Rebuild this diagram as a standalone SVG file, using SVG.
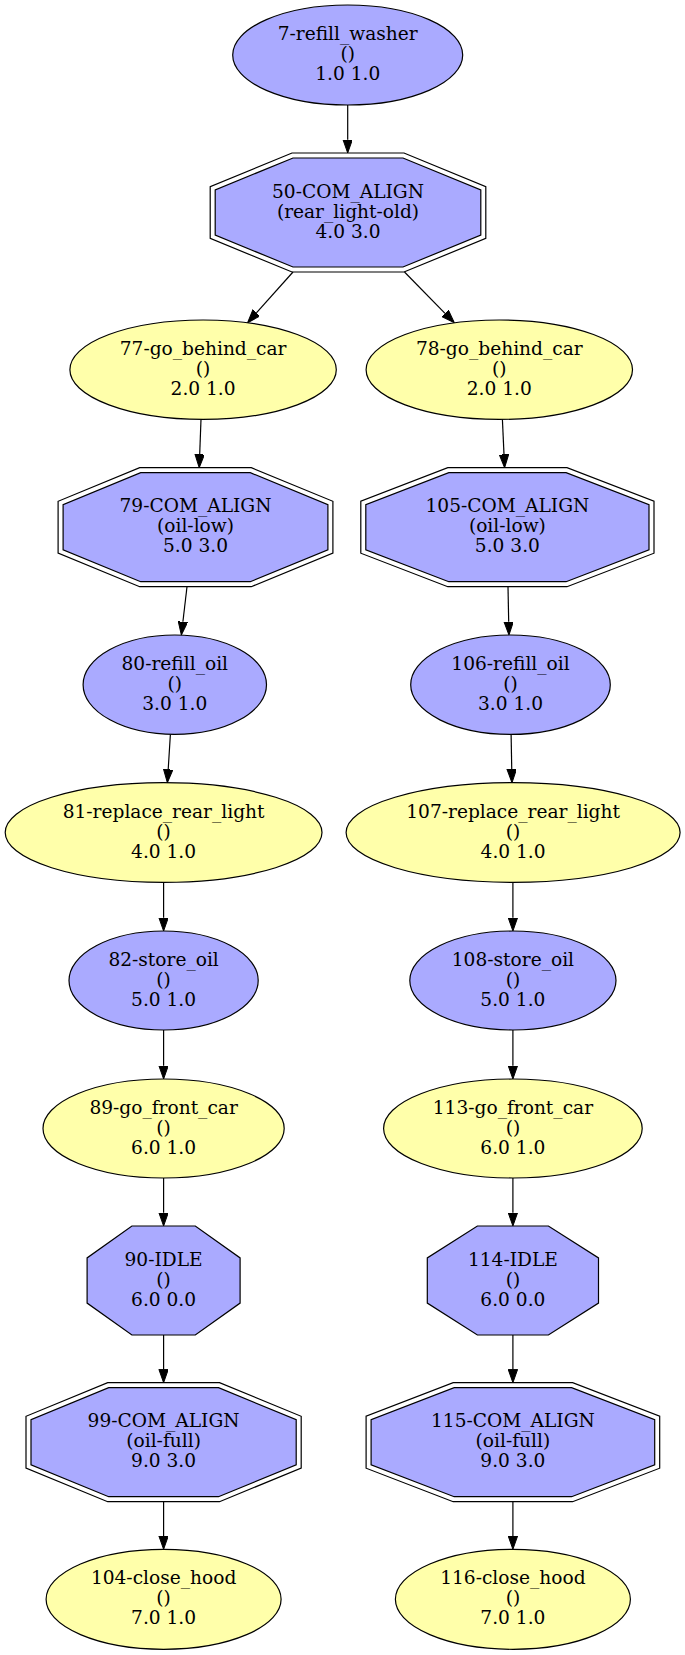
<svg xmlns="http://www.w3.org/2000/svg" width="685" height="1655" viewBox="0 0 685 1655">
<style>
.b{fill:#aaaaff;stroke:#000;stroke-width:1.2}
.y{fill:#ffffaa;stroke:#000;stroke-width:1.2}
.o{fill:none;stroke:#000;stroke-width:1.2}
text{font-family:"DejaVu Serif","Liberation Serif",serif;font-size:18.6px;text-anchor:middle;fill:#000}
.e{stroke:#000;stroke-width:1.2;fill:none;marker-end:url(#ah)}
</style>
<defs>
<marker id="ah" markerUnits="userSpaceOnUse" markerWidth="14" markerHeight="10" refX="0" refY="4.7" orient="auto">
<path d="M0,0 L13.3,4.7 L0,9.4 z" fill="#000" stroke="#000" stroke-width="1"/>
</marker>
</defs>
<rect width="685" height="1655" fill="#fff"/>
<g id="edges">
<line class="e" x1="347.7" y1="105" x2="347.7" y2="139.7"/>
<line class="e" x1="293" y1="272" x2="256.4" y2="312.9"/>
<line class="e" x1="404.5" y1="272" x2="445" y2="313.3"/>
<line class="e" x1="201" y1="419.3" x2="199.7" y2="454.4"/>
<line class="e" x1="502.4" y1="419.3" x2="504" y2="454.4"/>
<line class="e" x1="187" y1="586.7" x2="182.9" y2="621.8"/>
<line class="e" x1="508" y1="586.7" x2="508.7" y2="621.7"/>
<line class="e" x1="170.4" y1="734.4" x2="168.2" y2="769.4"/>
<line class="e" x1="511.1" y1="734.4" x2="511.75" y2="769.4"/>
<line class="e" x1="163.6" y1="882.3" x2="163.6" y2="917.7"/>
<line class="e" x1="512.9" y1="882.3" x2="512.9" y2="917.7"/>
<line class="e" x1="163.6" y1="1030" x2="163.6" y2="1065.7"/>
<line class="e" x1="512.9" y1="1030" x2="512.9" y2="1065.7"/>
<line class="e" x1="163.6" y1="1178" x2="163.6" y2="1212.7"/>
<line class="e" x1="512.9" y1="1178" x2="512.9" y2="1212.7"/>
<line class="e" x1="163.6" y1="1335" x2="163.6" y2="1369.4"/>
<line class="e" x1="512.9" y1="1335" x2="512.9" y2="1369.4"/>
<line class="e" x1="163.6" y1="1501.7" x2="163.6" y2="1536"/>
<line class="e" x1="512.9" y1="1501.7" x2="512.9" y2="1536"/>
</g>
<g id="n7">
<ellipse class="b" cx="347.7" cy="55" rx="115" ry="50"/>
<text x="347.7" y="40">7-refill_washer</text><text x="347.7" y="60">()</text><text x="347.7" y="80">1.0 1.0</text>
</g>
<g id="n50">
<polygon class="o" points="292,153 404,153 485.8,186.6 485.8,238.4 404,272 292,272 210.2,238.4 210.2,186.6"/>
<polygon class="b" points="293,158 403,158 480.8,189.9 480.8,235.1 403,267 293,267 215.2,235.1 215.2,189.9"/>
<text x="348" y="197.5">50-COM_ALIGN</text><text x="348" y="217.5">(rear_light-old)</text><text x="348" y="237.5">4.0 3.0</text>
</g>
<g id="n77">
<ellipse class="y" cx="203.1" cy="369.7" rx="133.2" ry="49.7"/>
<text x="203.1" y="354.7">77-go_behind_car</text><text x="203.1" y="374.7">()</text><text x="203.1" y="394.7">2.0 1.0</text>
</g>
<g id="n78">
<ellipse class="y" cx="499.3" cy="369.7" rx="133.2" ry="49.7"/>
<text x="499.3" y="354.7">78-go_behind_car</text><text x="499.3" y="374.7">()</text><text x="499.3" y="394.7">2.0 1.0</text>
</g>
<g id="n79">
<polygon class="o" points="139.7,467.7 251.3,467.7 332.9,501.3 332.9,553.1 251.3,586.7 139.7,586.7 58.1,553.1 58.1,501.3"/>
<polygon class="b" points="140.7,472.7 250.3,472.7 327.9,504.6 327.9,549.8 250.3,581.7 140.7,581.7 63.1,549.8 63.1,504.6"/>
<text x="195.5" y="512.2">79-COM_ALIGN</text><text x="195.5" y="532.2">(oil-low)</text><text x="195.5" y="552.2">5.0 3.0</text>
</g>
<g id="n105">
<polygon class="o" points="447.8,467.7 567,467.7 654,501.2 654,553.2 567,586.7 447.8,586.7 360.8,553.2 360.8,501.2"/>
<polygon class="b" points="448.8,472.7 566.1,472.7 649,504.6 649,549.8 566.1,581.7 448.8,581.7 365.8,549.8 365.8,504.6"/>
<text x="507.4" y="512.2">105-COM_ALIGN</text><text x="507.4" y="532.2">(oil-low)</text><text x="507.4" y="552.2">5.0 3.0</text>
</g>
<g id="n80">
<ellipse class="b" cx="174.8" cy="684.7" rx="91.7" ry="49.7"/>
<text x="174.8" y="669.7">80-refill_oil</text><text x="174.8" y="689.7">()</text><text x="174.8" y="709.7">3.0 1.0</text>
</g>
<g id="n106">
<ellipse class="b" cx="510.5" cy="684.7" rx="99.8" ry="49.7"/>
<text x="510.5" y="669.7">106-refill_oil</text><text x="510.5" y="689.7">()</text><text x="510.5" y="709.7">3.0 1.0</text>
</g>
<g id="n81">
<ellipse class="y" cx="163.6" cy="832.5" rx="158.4" ry="49.8"/>
<text x="163.6" y="817.5">81-replace_rear_light</text><text x="163.6" y="837.5">()</text><text x="163.6" y="857.5">4.0 1.0</text>
</g>
<g id="n107">
<ellipse class="y" cx="513.1" cy="832.5" rx="167" ry="49.8"/>
<text x="513.1" y="817.5">107-replace_rear_light</text><text x="513.1" y="837.5">()</text><text x="513.1" y="857.5">4.0 1.0</text>
</g>
<g id="n82">
<ellipse class="b" cx="163.6" cy="980.5" rx="94.6" ry="49.5"/>
<text x="163.6" y="965.5">82-store_oil</text><text x="163.6" y="985.5">()</text><text x="163.6" y="1005.5">5.0 1.0</text>
</g>
<g id="n108">
<ellipse class="b" cx="512.9" cy="980.5" rx="103.1" ry="49.5"/>
<text x="512.9" y="965.5">108-store_oil</text><text x="512.9" y="985.5">()</text><text x="512.9" y="1005.5">5.0 1.0</text>
</g>
<g id="n89">
<ellipse class="y" cx="163.6" cy="1128.5" rx="120.6" ry="49.5"/>
<text x="163.6" y="1113.5">89-go_front_car</text><text x="163.6" y="1133.5">()</text><text x="163.6" y="1153.5">6.0 1.0</text>
</g>
<g id="n113">
<ellipse class="y" cx="512.9" cy="1128.5" rx="129.3" ry="49.5"/>
<text x="512.9" y="1113.5">113-go_front_car</text><text x="512.9" y="1133.5">()</text><text x="512.9" y="1153.5">6.0 1.0</text>
</g>
<g id="n90">
<polygon class="b" points="131.9,1226 195.3,1226 240.1,1257.9 240.1,1303.1 195.3,1335 131.9,1335 87.1,1303.1 87.1,1257.9"/>
<text x="163.6" y="1265.5">90-IDLE</text><text x="163.6" y="1285.5">()</text><text x="163.6" y="1305.5">6.0 0.0</text>
</g>
<g id="n114">
<polygon class="b" points="477.4,1226 548.4,1226 598.5,1257.9 598.5,1303.1 548.4,1335 477.4,1335 427.3,1303.1 427.3,1257.9"/>
<text x="512.9" y="1265.5">114-IDLE</text><text x="512.9" y="1285.5">()</text><text x="512.9" y="1305.5">6.0 0.0</text>
</g>
<g id="n99">
<polygon class="o" points="107.7,1382.7 219.5,1382.7 301.2,1416.3 301.2,1468.1 219.5,1501.7 107.7,1501.7 26,1468.1 26,1416.3"/>
<polygon class="b" points="108.7,1387.7 218.5,1387.7 296.2,1419.6 296.2,1464.8 218.5,1496.7 108.7,1496.7 31,1464.8 31,1419.6"/>
<text x="163.6" y="1427.2">99-COM_ALIGN</text><text x="163.6" y="1447.2">(oil-full)</text><text x="163.6" y="1467.2">9.0 3.0</text>
</g>
<g id="n115">
<polygon class="o" points="453.2,1382.7 572.6,1382.7 659.7,1416.2 659.7,1468.2 572.6,1501.7 453.2,1501.7 366.1,1468.2 366.1,1416.2"/>
<polygon class="b" points="454.2,1387.7 571.6,1387.7 654.7,1419.6 654.7,1464.8 571.6,1496.7 454.2,1496.7 371.1,1464.8 371.1,1419.6"/>
<text x="512.9" y="1427.2">115-COM_ALIGN</text><text x="512.9" y="1447.2">(oil-full)</text><text x="512.9" y="1467.2">9.0 3.0</text>
</g>
<g id="n104">
<ellipse class="y" cx="163.6" cy="1599.3" rx="117.5" ry="50"/>
<text x="163.6" y="1584.3">104-close_hood</text><text x="163.6" y="1604.3">()</text><text x="163.6" y="1624.3">7.0 1.0</text>
</g>
<g id="n116">
<ellipse class="y" cx="512.9" cy="1599.3" rx="117.5" ry="50"/>
<text x="512.9" y="1584.3">116-close_hood</text><text x="512.9" y="1604.3">()</text><text x="512.9" y="1624.3">7.0 1.0</text>
</g>
</svg>
